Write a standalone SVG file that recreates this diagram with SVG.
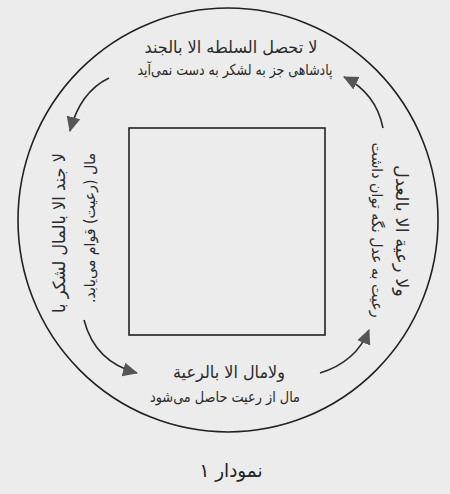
<svg xmlns="http://www.w3.org/2000/svg" width="450" height="494" viewBox="0 0 450 494">
<defs>
<style>
.ln{fill:none;stroke:#222;stroke-width:1.6}
.ar{fill:none;stroke:#2a2a2a;stroke-width:1.6}
.t1{font-family:"DejaVu Sans",sans-serif;font-size:17px;fill:#2a2a2a;text-anchor:middle;direction:rtl;unicode-bidi:embed}
.t2{font-family:"DejaVu Sans",sans-serif;font-size:15px;fill:#2a2a2a;text-anchor:middle;direction:rtl;unicode-bidi:embed}
.cap{font-family:"DejaVu Sans",sans-serif;font-size:19px;fill:#222;text-anchor:middle;direction:rtl;unicode-bidi:embed}
</style>
<marker id="ah" markerUnits="userSpaceOnUse" markerWidth="16" markerHeight="16" viewBox="0 0 16 16" refX="14" refY="8" orient="auto">
<path d="M0,1 L15,8 L0,15 Z" fill="#555"/>
</marker>
</defs>
<rect x="0" y="0" width="450" height="494" fill="#ececec"/>
<g id="cycle">
<ellipse class="ln" cx="228" cy="220" rx="210" ry="212"/>
</g>
<g id="center-square">
<rect class="ln" x="129" y="128" width="196" height="207"/>
</g>
<g id="connectors">
<path class="ar" d="M109,78 Q80,92 70,131" marker-end="url(#ah)"/>
<path class="ar" d="M383,128 Q376,93 344,77" marker-end="url(#ah)"/>
<path class="ar" d="M84,320 Q95,362 137,373" marker-end="url(#ah)"/>
<path class="ar" d="M320,373 Q356,362 369,330" marker-end="url(#ah)"/>
</g>
<g id="node-top">
<text class="t1" x="231" y="53" direction="rtl" textLength="173" lengthAdjust="spacingAndGlyphs">لا تحصل السلطه الا بالجند</text>
<text class="t2" x="235" y="75" direction="rtl" textLength="195" lengthAdjust="spacingAndGlyphs">پادشاهی جز به لشکر به دست نمی‌آید</text>
</g>
<g id="node-left">
<text class="t1" transform="translate(65,233) rotate(-90)" direction="rtl" textLength="160" lengthAdjust="spacingAndGlyphs">لا جند الا بالمال لشکر با</text>
<text class="t2" transform="translate(95,228) rotate(-90)" direction="rtl" textLength="150" lengthAdjust="spacingAndGlyphs">مال (رعیت) قوام می‌یابد.</text>
</g>
<g id="node-right">
<text class="t1" transform="translate(396,231) rotate(90)" direction="rtl" textLength="132" lengthAdjust="spacingAndGlyphs">ولا رعية الا بالعدل</text>
<text class="t2" transform="translate(372,230) rotate(90)" direction="rtl" textLength="175" lengthAdjust="spacingAndGlyphs">رعیت به عدل نگه توان داشت</text>
</g>
<g id="node-bottom">
<text class="t1" x="229" y="378" direction="rtl" textLength="112" lengthAdjust="spacingAndGlyphs">ولامال الا بالرعية</text>
<text class="t2" x="225" y="402" direction="rtl" textLength="150" lengthAdjust="spacingAndGlyphs">مال از رعیت حاصل می‌شود</text>
</g>
<g id="caption">
<text class="cap" x="231" y="477" direction="rtl" textLength="63" lengthAdjust="spacingAndGlyphs">نمودار ۱</text>
</g>
</svg>
